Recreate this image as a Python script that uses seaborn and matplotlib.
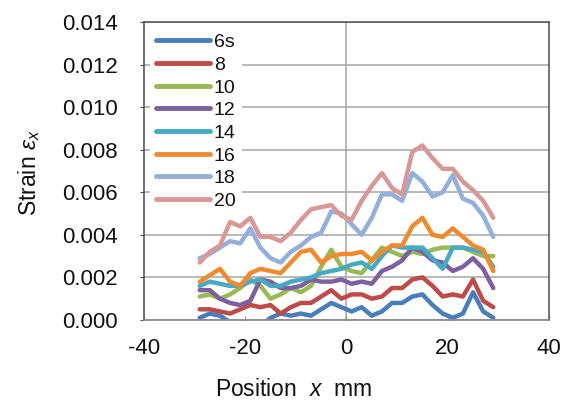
import numpy as np
import pandas as pd
import matplotlib
matplotlib.use("Agg")
import matplotlib.pyplot as plt
import seaborn as sns

# position along specimen (mm)
position = [-29, -27, -25, -23, -21, -19, -17, -15, -13, -11, -9, -7, -5, -3, -1,
            1, 3, 5, 7, 9, 11, 13, 15, 17, 19, 21, 23, 25, 27, 29]

labels = ["6s", "8", "10", "12", "14", "16", "18", "20"]

strain_6 = [0.0001, 0.0003, 0.0002, -0.0001, -0.0003, -0.0004, -0.0003, 0.0001, 0.0003, 0.0002,
            0.0003, 0.0002, 0.0005, 0.0008, 0.0006, 0.0004, 0.0006, 0.0002, 0.0004, 0.0008,
            0.0008, 0.0011, 0.0012, 0.0007, 0.0003, 0.0001, 0.0003, 0.0013, 0.0004, 0.0001]
strain_8 = [0.0005, 0.0005, 0.0004, 0.0003, 0.0005, 0.0007, 0.0006, 0.0007, 0.0003, 0.0006,
            0.0008, 0.0008, 0.0011, 0.0014, 0.0010, 0.0012, 0.0012, 0.0010, 0.0011, 0.0015,
            0.0015, 0.0019, 0.0020, 0.0016, 0.0011, 0.0012, 0.0011, 0.0019, 0.0009, 0.0006]
strain_10 = [0.0011, 0.0012, 0.0010, 0.0012, 0.0015, 0.0019, 0.0016, 0.0010, 0.0012, 0.0015,
             0.0013, 0.0016, 0.0025, 0.0033, 0.0025, 0.0023, 0.0022, 0.0028, 0.0034, 0.0032,
             0.0030, 0.0032, 0.0031, 0.0033, 0.0034, 0.0034, 0.0034, 0.0032, 0.0030, 0.0030]
strain_12 = [0.0014, 0.0014, 0.0010, 0.0008, 0.0007, 0.0009, 0.0019, 0.0018, 0.0015, 0.0015,
             0.0016, 0.0019, 0.0018, 0.0018, 0.0019, 0.0017, 0.0018, 0.0017, 0.0023, 0.0025,
             0.0028, 0.0034, 0.0032, 0.0028, 0.0027, 0.0023, 0.0025, 0.0029, 0.0024, 0.0015]
strain_14 = [0.0016, 0.0018, 0.0017, 0.0016, 0.0016, 0.0018, 0.0019, 0.0016, 0.0016, 0.0018,
             0.0019, 0.0020, 0.0022, 0.0023, 0.0024, 0.0026, 0.0027, 0.0024, 0.0030, 0.0035,
             0.0034, 0.0034, 0.0034, 0.0029, 0.0024, 0.0034, 0.0034, 0.0033, 0.0032, 0.0025]
strain_16 = [0.0018, 0.0021, 0.0024, 0.0018, 0.0016, 0.0022, 0.0024, 0.0023, 0.0022, 0.0027,
             0.0032, 0.0033, 0.0027, 0.0030, 0.0031, 0.0031, 0.0032, 0.0028, 0.0032, 0.0035,
             0.0035, 0.0044, 0.0048, 0.0040, 0.0039, 0.0043, 0.0039, 0.0035, 0.0033, 0.0023]
strain_18 = [0.0029, 0.0031, 0.0034, 0.0037, 0.0036, 0.0043, 0.0034, 0.0029, 0.0027, 0.0032,
             0.0035, 0.0039, 0.0041, 0.0051, 0.0050, 0.0045, 0.0040, 0.0048, 0.0059, 0.0059,
             0.0056, 0.0069, 0.0065, 0.0058, 0.0060, 0.0068, 0.0057, 0.0055, 0.0049, 0.0039]
strain_20 = [0.0027, 0.0032, 0.0035, 0.0046, 0.0044, 0.0048, 0.0039, 0.0039, 0.0037, 0.0041,
             0.0047, 0.0052, 0.0053, 0.0054, 0.0049, 0.0047, 0.0056, 0.0063, 0.0069, 0.0062,
             0.0059, 0.0079, 0.0082, 0.0076, 0.0071, 0.0071, 0.0065, 0.0061, 0.0056, 0.0048]

colors = ["#4A7EBB", "#BE4B48", "#98B954", "#7D60A0",
          "#46AAC5", "#F08A2E", "#93AFDA", "#D99795"]

series = [strain_6, strain_8, strain_10, strain_12, strain_14, strain_16, strain_18, strain_20]
df = pd.concat([pd.DataFrame({"x": position, "strain": s, "step": lab})
                for s, lab in zip(series, labels)], ignore_index=True)

sns.set_style("white")
plt.rcParams['font.family'] = ['Liberation Sans', 'DejaVu Sans']
plt.rcParams['mathtext.fontset'] = 'custom'
plt.rcParams['mathtext.rm'] = 'Liberation Sans'
plt.rcParams['mathtext.it'] = 'Liberation Sans:italic'
plt.rcParams['axes.unicode_minus'] = False
plt.rcParams['text.color'] = '#111111'
plt.rcParams['xtick.labelcolor'] = '#111111'
plt.rcParams['ytick.labelcolor'] = '#111111'
plt.rcParams['axes.labelcolor'] = '#111111'

fig = plt.figure(figsize=(5.7, 4.05), dpi=100)
ax = fig.add_axes([0.2526, 0.21, 0.7105, 0.7357])

sns.lineplot(data=df, x="x", y="strain", hue="step", palette=colors,
             linewidth=3.2, ax=ax, legend=True)
for line in ax.get_lines():
    line.set_solid_joinstyle('round')
    line.set_solid_capstyle('round')

ax.set_xlim(-40, 40)
ax.set_ylim(0, 0.014)
ax.set_xticks([-40, -20, 0, 20, 40])
ax.set_yticks(np.arange(0, 0.0141, 0.002))
ax.yaxis.set_major_formatter(matplotlib.ticker.FormatStrFormatter('%.3f'))

ax.grid(axis='y', color='#a6a6a6', linewidth=1.1)
ax.axvline(0, color='#a6a6a6', linewidth=1.1, zorder=0.5)
ax.set_axisbelow(True)

for side in ['left', 'top', 'right']:
    ax.spines[side].set_color('#4d4d4d')
    ax.spines[side].set_linewidth(1.1)
ax.spines['bottom'].set_color('#8c8c8c')
ax.spines['bottom'].set_linewidth(1.3)

ax.tick_params(axis='y', direction='out', length=3, width=0.8, color='#4d4d4d',
               pad=16, labelsize=16, left=True)
ax.tick_params(axis='x', direction='in', length=3, width=0.8, color='#8c8c8c',
               pad=13, labelsize=16, bottom=True)

ax.set_xlabel(r'Position  $x$  mm', fontsize=16.5)
ax.xaxis.set_label_coords(0.368, -0.235)
ax.xaxis.label.set_va('center')
ax.set_ylabel(r'Strain $\varepsilon_x$', fontsize=16.5)
ax.yaxis.set_label_coords(-0.283, 0.493)
ax.yaxis.label.set_va('center')

leg = ax.legend(loc='upper left', bbox_to_anchor=(0.0, 1.0), frameon=True,
                fontsize=14, handlelength=2.8, handletextpad=0.2,
                labelspacing=0.26, borderpad=0.3, borderaxespad=0.3)
leg.get_frame().set_facecolor('white')
leg.get_frame().set_edgecolor('none')
leg.get_frame().set_alpha(1)
for line in leg.get_lines():
    line.set_linewidth(3.5)
    line.set_solid_capstyle('round')

fig.savefig("out.png", dpi=100)
